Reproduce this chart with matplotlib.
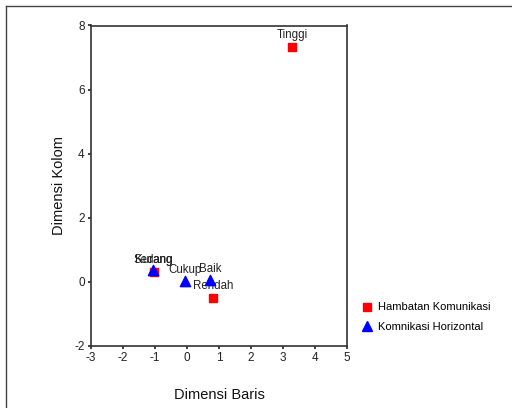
import matplotlib
matplotlib.use("Agg")
import matplotlib.pyplot as plt
from matplotlib.lines import Line2D

plt.rcParams['font.family'] = ['Liberation Sans', 'DejaVu Sans']
plt.rcParams['axes.unicode_minus'] = False

# Hambatan Komunikasi (red squares)
ham_labels = ["Tinggi", "Sedang", "Rendah"]
ham_x = [3.28, -1.04, 0.82]
ham_y = [7.34, 0.31, -0.50]

# Komnikasi Horizontal (blue triangles)
kom_labels = ["Kurang", "Cukup", "Baik"]
kom_x = [-1.05, -0.07, 0.72]
kom_y = [0.36, 0.02, 0.07]

xticks = [-3, -2, -1, 0, 1, 2, 3, 4, 5]
yticks = [-2, 0, 2, 4, 6, 8]

W, H = 512, 408
fig = plt.figure(figsize=(W / 100, H / 100), dpi=100)
ax = fig.add_axes([91 / W, 1 - 346 / H, (347 - 91) / W, (346 - 25.5) / H])

ax.scatter(ham_x, ham_y, marker='s', s=40, color='#ff0000', edgecolors='#ff0000', zorder=3)
ax.scatter(kom_x, kom_y, marker='^', s=55, color='#0000ff', edgecolors='#0000ff', zorder=4)

for lab, x, y in zip(ham_labels, ham_x, ham_y):
    ax.annotate(lab, (x, y), xytext=(0, 8.3), textcoords='offset points',
                ha='center', va='center', fontsize=8.3, color='#222222')
for lab, x, y in zip(kom_labels, kom_x, kom_y):
    ax.annotate(lab, (x, y), xytext=(0, 7.8), textcoords='offset points',
                ha='center', va='center', fontsize=8.3, color='#222222')

ax.set_xlim(-3, 5)
ax.set_ylim(-2, 8)
ax.set_xticks(xticks)
ax.set_yticks(yticks)
ax.tick_params(direction='out', length=2.5, width=1.2, labelsize=8.5, pad=2, colors='#222222')
for s in ax.spines.values():
    s.set_color('#333333')
    s.set_linewidth(1.2)

ax.set_xlabel("Dimensi Baris", fontsize=10.5, labelpad=17, color='#111111')
ax.set_ylabel("Dimensi Kolom", fontsize=10.5, labelpad=6, color='#111111')

handles = [
    Line2D([], [], marker='s', linestyle='none', color='#ff0000', markersize=5.5),
    Line2D([], [], marker='^', linestyle='none', color='#0000ff', markersize=6.5),
]
fig.legend(handles, ["Hambatan Komunikasi", "Komnikasi Horizontal"],
           loc='upper left', bbox_to_anchor=(357 / W, 1 - 298 / H),
           frameon=False, fontsize=8, handletextpad=0.5, labelspacing=0.85,
           handlelength=1.0, borderaxespad=0)

# outer frame (left and top visible)
fig.add_artist(Line2D([5.5 / W, 5.5 / W], [0, 1 - 5.5 / H], transform=fig.transFigure,
                      color='#444444', linewidth=1))
fig.add_artist(Line2D([5.5 / W, 1], [1 - 5.5 / H, 1 - 5.5 / H], transform=fig.transFigure,
                      color='#444444', linewidth=1))

fig.savefig("out.png", dpi=100)
